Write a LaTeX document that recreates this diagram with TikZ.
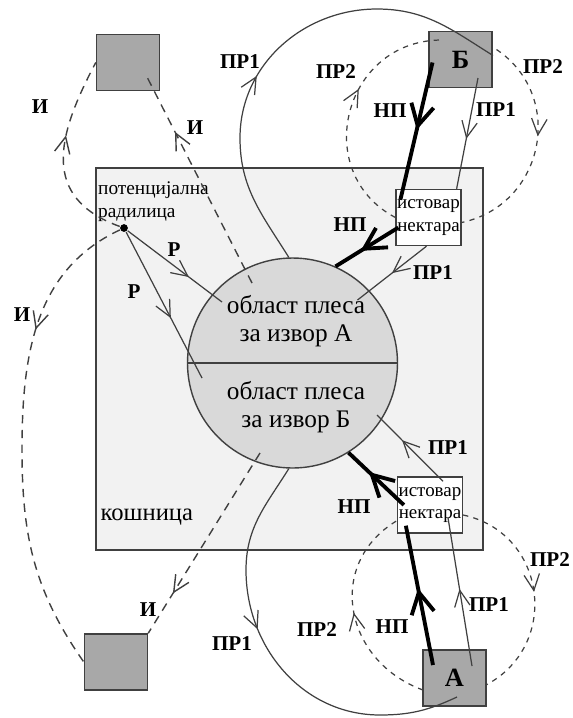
\documentclass[tikz,border=0pt]{standalone}
\usepackage{fontspec}
\setmainfont{Liberation Serif}
\usetikzlibrary{arrows.meta, decorations.markings}
\definecolor{hivefill}{gray}{0.95}
\definecolor{fieldfill}{gray}{0.85}
\definecolor{sitefill}{gray}{0.66}
\definecolor{linegray}{gray}{0.25}

\begin{document}
\begin{tikzpicture}[
		site/.style={draw=linegray, fill=sitefill, minimum width=0.63cm, minimum height=0.56cm, inner sep=0pt, font=\fontsize{7.5}{8}\selectfont\bfseries},
		unload/.style={draw=linegray, fill=white, minimum width=0.63cm, minimum height=0.56cm, inner sep=0.3pt, align=center, font=\fontsize{5.4}{6.4}\selectfont},
		lbl/.style={font=\fontsize{6}{7}\selectfont\bfseries, inner sep=0pt},
		pr/.style={draw=linegray, line width=0.35pt},
		np/.style={draw=black, line width=1.1pt},
		scout/.style={draw=linegray, line width=0.4pt, dash pattern=on 2.4pt off 1.8pt},
		circuit/.style={draw=linegray, line width=0.35pt, dash pattern=on 1.5pt off 1.5pt},
		midarr/.style={postaction={decorate, decoration={markings, mark=at position #1 with {\arrow{Straight Barb[length=4.6pt,width=4.4pt]}}}}},
		bigarr/.style={postaction={decorate, decoration={markings, mark=at position #1 with {\arrow{Straight Barb[length=6pt,width=6.5pt]}}}}}
	]
		\useasboundingbox (0,0) rectangle (5.73,-7.18);

		\node[draw=linegray, fill=hivefill, minimum width=3.87cm, minimum height=3.82cm, inner sep=0pt] (hive) at (2.895,-3.59) {};
		\node[anchor=west, inner sep=0pt, font=\fontsize{7}{8}\selectfont] (hivename) at (1.00,-5.17) {кошница};

		\node[circle, draw=linegray, fill=fieldfill, minimum size=2.10cm, inner sep=0pt] (field) at (2.925,-3.63) {};
		\draw[linegray, line width=0.5pt] (field.west) -- (field.east);
		\node[align=center, font=\fontsize{7.2}{8}\selectfont] (fieldA) at (2.96,-3.21) {област плеса\\за извор А};
		\node[align=center, font=\fontsize{7.2}{8}\selectfont] (fieldB) at (2.96,-4.07) {област плеса\\за извор Б};

		\node[site] (srcX) at (1.28,-0.625) {};
		\node[site] (srcB) at (4.605,-0.595) {Б};
		\node[site] (srcY) at (1.16,-6.62) {};
		\node[site] (srcA) at (4.545,-6.78) {А};

		\node[unload] (unloadB) at (4.285,-2.175) {истовар\\нектара};
		\node[unload] (unloadA) at (4.30,-5.05) {истовар\\нектара};

		\node[circle, fill=black, inner sep=0pt, minimum size=2.2pt] (forager) at (1.24,-2.28) {};
		\node[anchor=west, align=left, inner sep=0pt, font=\fontsize{5.5}{6.5}\selectfont] (foragername) at (0.975,-2.02) {потенцијална\\радилица};

		\draw[np, bigarr=0.49] ([shift={(-0.28,-0.03)}]srcB.center) -- ([shift={(0.05,-0.11)}]unloadB.north west);
		\draw[np, bigarr=0.6] ([shift={(0.03,-0.1)}]unloadB.west) -- (field.66);
		\draw[pr, midarr=0.55] ([shift={(0.175,-0.185)}]srcB.center) -- ([xshift=-0.05cm]unloadB.north east);
		\draw[pr, midarr=0.5] ([xshift=-0.02cm]unloadB.south) -- ([shift={(0.65,0.63)}]field.center);
		\draw[pr, midarr=0.42] (field.92) to[out=122,in=-90] (2.40,-1.38) to[out=90,in=180] (3.77,-0.09) to[out=0,in=148] ([shift={(0.325,0.04)}]srcB.center);
		\draw[circuit, midarr=0.6] (unloadB.west) to[out=152,in=181,looseness=1.35] ([shift={(-0.205,0.195)}]srcB.center);
		\draw[circuit, midarr=0.45] ([shift={(0.36,0.10)}]srcB.center) to[out=-34,in=12,looseness=1.22] ([yshift=-0.05cm]unloadB.east);

		\draw[np, bigarr=0.55] ([shift={(-0.215,0.13)}]srcA.center) -- ([shift={(0.09,0.08)}]unloadA.south west);
		\draw[np, bigarr=0.63] ([xshift=0.07cm]unloadA.west) -- (field.-58);
		\draw[pr, midarr=0.52] ([shift={(0.175,0.12)}]srcA.center) -- ([shift={(0.18,0.16)}]unloadA.south);
		\draw[pr, midarr=0.62] ([shift={(0.13,-0.05)}]unloadA.north) -- ([shift={(0.845,-0.52)}]field.center);
		\draw[pr, midarr=0.42] (field.-92) to[out=238,in=90] (2.46,-5.70) to[out=-90,in=180] (3.80,-7.15) to[out=0,in=205] ([shift={(0.025,-0.19)}]srcA.center);
		\draw[circuit, midarr=0.5] ([shift={(-0.315,-0.12)}]srcA.center) to[out=160,in=211,looseness=1.25] ([yshift=0.13cm]unloadA.south west);
		\draw[circuit, midarr=0.5] ([yshift=-0.1cm]unloadA.east) to[out=-12,in=28,looseness=1.27] ([shift={(0.315,-0.07)}]srcA.center);

		\draw[scout, midarr=0.72] ([shift={(-0.405,0.80)}]field.center) -- ([shift={(0.17,-0.105)}]srcX.center);
		\draw[scout, midarr=0.6] (forager) to[out=160,in=242,looseness=1.3] (srcX.west);
		\draw[scout, midarr=0.28] (forager) to[out=205,in=90] (0.22,-4.50) to[out=-90,in=125] (srcY.west);
		\draw[scout, midarr=0.78] ([shift={(-0.325,-0.90)}]field.center) -- (srcY.north east);

		\draw[pr, midarr=0.65] (forager) -- ([shift={(-0.705,0.61)}]field.center);
		\draw[pr, midarr=0.59] (forager) -- ([shift={(-0.905,-0.15)}]field.center);

		\node[lbl] (labPR1top) at (2.40,-0.62) {ПР1};
		\node[lbl] (labPR2top) at (3.36,-0.72) {ПР2};
		\node[lbl] (labPR2right) at (5.43,-0.67) {ПР2};
		\node[lbl] (labNPtop) at (3.90,-1.11) {НП};
		\node[lbl] (labPR1right) at (4.96,-1.10) {ПР1};
		\node[lbl] (labIleft) at (0.40,-1.07) {И};
		\node[lbl] (labImid) at (1.95,-1.28) {И};
		\node[lbl] (labNPhive) at (3.50,-2.25) {НП};
		\node[lbl] (labPR1hive) at (4.33,-2.73) {ПР1};
		\node[lbl] (labRup) at (1.74,-2.50) {Р};
		\node[lbl] (labRlow) at (1.34,-2.92) {Р};
		\node[lbl] (labIfar) at (0.22,-3.15) {И};
		\node[lbl] (labPR1low) at (4.48,-4.48) {ПР1};
		\node[lbl] (labNPlow) at (3.54,-5.07) {НП};
		\node[lbl] (labIbottom) at (1.48,-6.10) {И};
		\node[lbl] (labPR1bottom) at (2.32,-6.44) {ПР1};
		\node[lbl] (labPR2bottom) at (3.17,-6.30) {ПР2};
		\node[lbl] (labNPbottom) at (3.92,-6.27) {НП};
		\node[lbl] (labPR1A) at (4.89,-6.05) {ПР1};
		\node[lbl] (labPR2A) at (5.50,-5.60) {ПР2};
	\end{tikzpicture}
\end{document}
